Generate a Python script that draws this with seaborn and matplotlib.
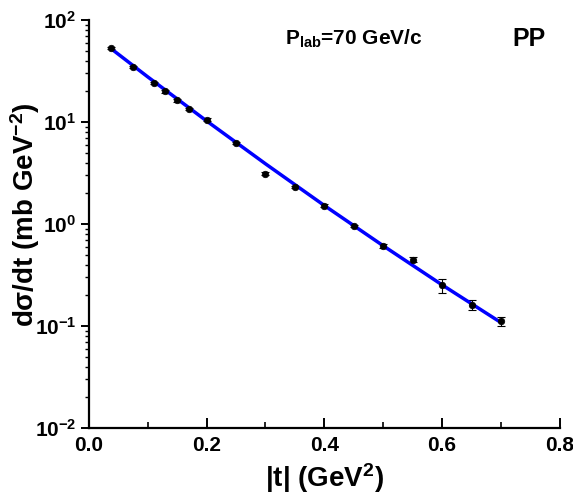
import numpy as np
import pandas as pd
import matplotlib
matplotlib.use("Agg")
import matplotlib.pyplot as plt
import seaborn as sns
from matplotlib.ticker import LogLocator, MultipleLocator, NullFormatter

# Data
t_data = [0.0375, 0.075, 0.11, 0.13, 0.15, 0.17, 0.20, 0.25, 0.30, 0.35,
          0.40, 0.45, 0.50, 0.55, 0.60, 0.65, 0.70]
dsig_data = [53.5, 34.8, 24.3, 20.0, 16.3, 13.5, 10.6, 6.27, 3.11, 2.31,
             1.51, 0.955, 0.608, 0.447, 0.251, 0.161, 0.111]
dsig_err = [1.0, 0.8, 0.6, 0.5, 0.4, 0.35, 0.3, 0.18, 0.1, 0.07,
            0.05, 0.03, 0.025, 0.025, 0.041, 0.018, 0.011]

t_fit = [0.037, 0.1, 0.2, 0.3, 0.4, 0.5, 0.6, 0.7]
dsig_fit = [53.0, 27.8, 10.27, 3.90, 1.52, 0.612, 0.253, 0.108]

x_ticks = [0.0, 0.2, 0.4, 0.6, 0.8]

sns.set_style("ticks")
plt.rcParams['font.family'] = ['Liberation Sans', 'DejaVu Sans']
plt.rcParams['font.weight'] = 'bold'
plt.rcParams['mathtext.default'] = 'regular'
for k in ['text.color', 'axes.labelcolor', 'xtick.color', 'ytick.color', 'axes.edgecolor']:
    plt.rcParams[k] = 'black'

df_pts = pd.DataFrame({"t": t_data, "y": dsig_data, "err": dsig_err})
df_fit = pd.DataFrame({"t": t_fit, "y": dsig_fit})

fig = plt.figure(figsize=(5.73, 5.04), dpi=100)
ax = fig.add_axes([0.155, 0.151, 0.822, 0.809])

ax.errorbar(df_pts["t"], df_pts["y"], yerr=df_pts["err"], fmt='none',
            ecolor='black', elinewidth=0.8, capsize=3, capthick=0.8, zorder=2)
sns.lineplot(data=df_fit, x="t", y="y", ax=ax, color='#0000ff', linewidth=2.5, zorder=3)
sns.scatterplot(data=df_pts, x="t", y="y", ax=ax, color='black', s=22,
                edgecolor='black', linewidth=0.5, zorder=4)

ax.set_yscale('log')
ax.set_xlim(0.0, 0.8)
ax.set_ylim(1e-2, 1e2)
ax.set_xticks(x_ticks)
ax.set_xticklabels([f"{v:.1f}" for v in x_ticks])
ax.xaxis.set_minor_locator(MultipleLocator(0.1))
ax.yaxis.set_major_locator(LogLocator(base=10, numticks=10))
ax.yaxis.set_minor_locator(LogLocator(base=10, subs=np.arange(2, 10), numticks=20))
ax.yaxis.set_minor_formatter(NullFormatter())

sns.despine(ax=ax)
for s in ['left', 'bottom']:
    ax.spines[s].set_linewidth(1.6)
    ax.spines[s].set_color('black')

ax.tick_params(axis='x', which='major', direction='in', length=7, width=1.4, labelsize=15, pad=6)
ax.tick_params(axis='x', which='minor', direction='in', length=4, width=1.2)
ax.tick_params(axis='y', which='major', direction='out', length=6, width=1.4, labelsize=15, pad=3)
ax.tick_params(axis='y', which='minor', direction='out', length=3, width=1.0)
for lab in ax.get_xticklabels() + ax.get_yticklabels():
    lab.set_fontweight('bold')

ax.set_xlabel("|t| (GeV$^{2}$)", fontsize=20, fontweight='bold', labelpad=4)
ax.set_ylabel("dσ/dt (mb GeV$^{-2}$)", fontsize=20, fontweight='bold')
ax.yaxis.set_label_coords(-0.10, 0.524)

ax.text(0.416, 0.955, "P$_{lab}$=70 GeV/c", transform=ax.transAxes, fontsize=15,
        fontweight='bold', ha='left', va='center')
ax.text(0.90, 0.955, "PP", transform=ax.transAxes, fontsize=18,
        fontweight='bold', ha='left', va='center')

fig.savefig("out.png", dpi=100)
